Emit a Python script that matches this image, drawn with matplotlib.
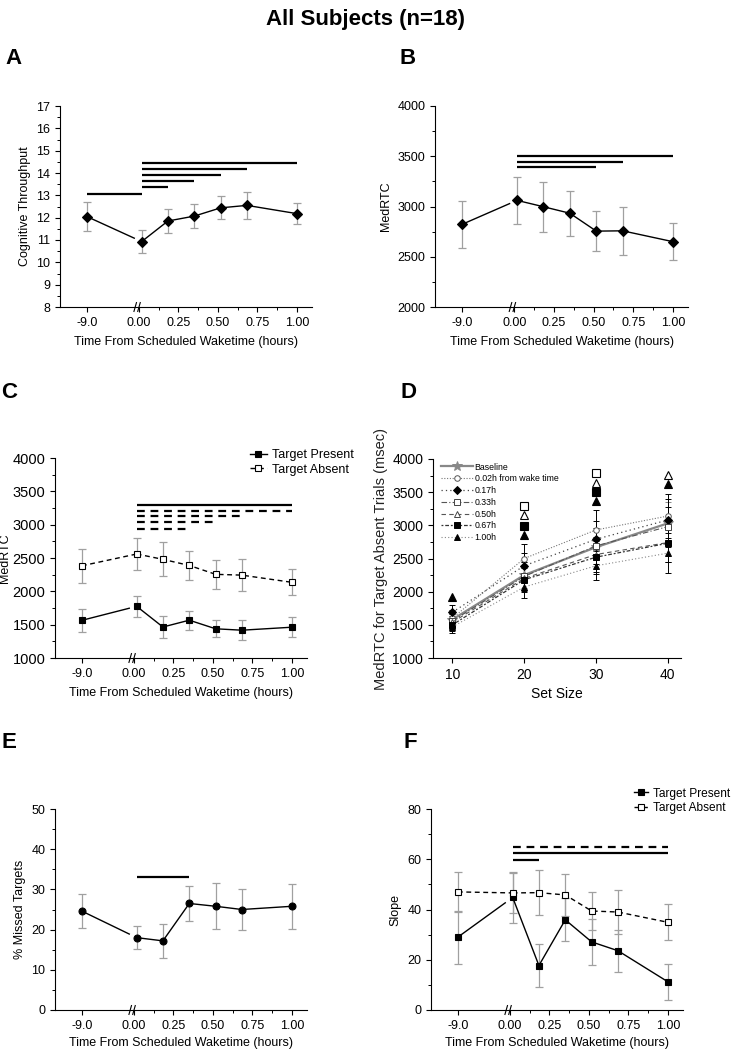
import matplotlib.pyplot as plt
from matplotlib.lines import Line2D
import numpy as np

plt.rcParams['font.family'] = ['Liberation Sans', 'DejaVu Sans']
plt.rcParams['axes.linewidth'] = 0.8

# session times (hours from scheduled waketime), -9.0 = baseline before sleep
hours = [-9.0, 0.017, 0.183, 0.35, 0.517, 0.683, 1.0]
tick_hours = [-9.0, 0.0, 0.25, 0.5, 0.75, 1.0]
tick_labels = ['-9.0', '0.00', '0.25', '0.50', '0.75', '1.00']

# A: cognitive throughput
thr_mean = [12.05, 10.93, 11.85, 12.07, 12.44, 12.55, 12.18]
thr_err = [0.64, 0.52, 0.55, 0.52, 0.52, 0.59, 0.46]
thr_sig = [(-9.0, 0.017, 13.08), (0.017, 0.183, 13.38), (0.017, 0.35, 13.64),
           (0.017, 0.517, 13.90), (0.017, 0.683, 14.17), (0.017, 1.0, 14.43)]

# B: MedRTC overall
rtc_mean = [2822, 3061, 2998, 2933, 2755, 2758, 2650]
rtc_err = [234, 232, 249, 223, 201, 236, 186]
rtc_sig = [(0.017, 0.517, 3390), (0.017, 0.683, 3443), (0.017, 1.0, 3502)]

# C: MedRTC target present / absent
tp_rtc = [1565, 1775, 1465, 1567, 1438, 1417, 1462]
tp_rtc_err = [175, 162, 165, 143, 125, 147, 147]
ta_rtc = [2383, 2560, 2480, 2388, 2255, 2243, 2135]
ta_rtc_err = [258, 240, 255, 215, 220, 235, 193]
rtc_sig_solid = [(0.017, 1.0, 3300)]
rtc_sig_dashed = [(0.017, 1.0, 3210), (0.017, 0.683, 3125),
                  (0.017, 0.517, 3035), (0.017, 0.35, 2940)]

# D: MedRTC for target absent trials by set size
set_sizes = [10, 20, 30, 40]
d_sessions = ['Baseline', '0.02h from wake time', '0.17h', '0.33h', '0.50h', '0.67h', '1.00h']
d_means = [[1580, 2250, 2670, 3030],
           [1600, 2500, 2930, 3140],
           [1690, 2390, 2790, 3080],
           [1560, 2230, 2690, 2980],
           [1540, 2200, 2560, 2740],
           [1500, 2180, 2520, 2730],
           [1470, 2070, 2390, 2580]]
d_errs = [[110, 200, 260, 320],
          [130, 220, 300, 330],
          [110, 200, 280, 320],
          [110, 210, 270, 300],
          [100, 190, 260, 300],
          [100, 180, 250, 290],
          [90, 170, 220, 300]]
# significance symbols drawn above the data
d_sig = {'0.33h': ([20, 30], [3290, 3790]),
         '0.50h': ([20, 30, 40], [3150, 3640, 3760]),
         '0.67h': ([20, 30], [2990, 3500]),
         '1.00h': ([10, 20, 30, 40], [1915, 2860, 3360, 3620])}

# E: % missed targets
miss_mean = [24.6, 18.0, 17.2, 26.5, 25.8, 25.0, 25.8]
miss_err = [4.3, 2.9, 4.2, 4.4, 5.7, 5.1, 5.6]
miss_sig = [(0.017, 0.35, 33.1)]

# F: slope target present / absent
tp_slope = [29.0, 44.8, 17.7, 35.9, 27.1, 23.6, 11.2]
tp_slope_err = [10.5, 10.0, 8.4, 8.5, 9.0, 8.3, 7.2]
ta_slope = [47.0, 46.6, 46.7, 45.8, 39.4, 39.0, 34.9]
ta_slope_err = [7.8, 8.0, 9.0, 8.3, 7.5, 8.9, 7.2]
slope_sig_dashed = [(0.017, 1.0, 64.7)]
slope_sig_solid = [(0.017, 1.0, 62.3), (0.017, 0.183, 59.7)]

BASE_POS = -0.33   # where -9.0 h sits on the broken axis
BREAK_END = -0.03  # baseline line stops short of the break
XLABEL = 'Time From Scheduled Waketime (hours)'
ERR_GREY = '#a0a0a0'
DASH = (0, (3.5, 2.6))
TICK_FS = 9
LABEL_FS = 9


def xpos(h):
    return BASE_POS if h < 0 else h


def ax_rect(left, top, right, bottom):
    W, H = 732, 1050
    return [left / W, 1 - bottom / H, (right - left) / W, (bottom - top) / H]


def style_axes(ax, ylim, yticks, yminor, fs=TICK_FS):
    for s in ['top', 'right']:
        ax.spines[s].set_visible(False)
    ax.set_ylim(*ylim)
    ax.set_yticks(yticks)
    ax.set_yticks(yminor, minor=True)
    ax.tick_params(which='major', direction='out', length=3.5, width=0.8, labelsize=fs)
    ax.tick_params(which='minor', direction='out', length=2, width=0.7)


def time_axes(ax, ylim, yticks, yminor, ylabel):
    style_axes(ax, ylim, yticks, yminor)
    ax.set_xlim(-0.5, 1.095)
    ax.set_xticks([xpos(h) for h in tick_hours])
    ax.set_xticklabels(tick_labels)
    ax.set_xticks([0.125, 0.375, 0.625, 0.875], minor=True)
    ax.set_ylabel(ylabel, fontsize=LABEL_FS)
    # axis break marks
    tr = ax.get_xaxis_transform()
    for dx in (-0.024, 0.0):
        ax.plot([dx - 0.008, dx + 0.008], [-0.022, 0.022], color='k', lw=0.8,
                transform=tr, clip_on=False)


def time_series(ax, means, errs, marker, filled=True, ls='-'):
    pos = [xpos(h) for h in hours]
    ax.errorbar(pos, means, yerr=errs, fmt='none', ecolor=ERR_GREY, elinewidth=0.9,
                capsize=3.2, capthick=0.9, zorder=2)
    mfc = 'k' if filled else 'white'
    if ls == '-':
        frac = (BREAK_END - pos[0]) / (pos[1] - pos[0])
        ax.plot([pos[0], BREAK_END], [means[0], means[0] + frac * (means[1] - means[0])],
                color='k', lw=1, ls=ls, zorder=3)
    else:
        ax.plot(pos[:2], means[:2], color='k', lw=1, ls=ls, zorder=3)
    ax.plot(pos[1:], means[1:], color='k', lw=1, ls=ls, zorder=3)
    ms = 4.8 if marker == 'D' else 5
    ax.plot(pos, means, ls='none', marker=marker, ms=ms, mfc=mfc, mec='k',
            mew=0.8, zorder=4)
    return Line2D([], [], color='k', lw=1, ls=ls, marker=marker, ms=4.5,
                  mfc=mfc, mec='k', mew=0.8)


def sig_bars(ax, bars, ls='-'):
    for h0, h1, y in bars:
        ax.plot([xpos(h0), xpos(h1)], [y, y], color='k', lw=1.6, ls=ls,
                solid_capstyle='butt', dash_capstyle='butt', zorder=3)


fig = plt.figure(figsize=(7.32, 10.5), dpi=100)
fig.text(0.5, 1 - 19 / 1050, 'All Subjects (n=18)', ha='center', va='center',
         fontsize=16, fontweight='bold')

letters = [('A', 13, 58), ('B', 408, 58), ('C', 9, 392), ('D', 409, 392),
           ('E', 9, 743), ('F', 410, 743)]
for lab, x, y in letters:
    fig.text(x / 732, 1 - y / 1050, lab, ha='center', va='center',
             fontsize=16, fontweight='bold')

# A
axA = fig.add_axes(ax_rect(60, 106, 312, 307))
time_axes(axA, (8, 17), range(8, 18), np.arange(8.5, 17, 1), 'Cognitive Throughput')
time_series(axA, thr_mean, thr_err, 'D')
sig_bars(axA, thr_sig)
axA.set_xlabel(XLABEL, fontsize=LABEL_FS, labelpad=5)

# B
axB = fig.add_axes(ax_rect(435, 106, 688, 307))
time_axes(axB, (2000, 4000), range(2000, 4001, 500), np.arange(2250, 4000, 500), 'MedRTC')
time_series(axB, rtc_mean, rtc_err, 'D')
sig_bars(axB, rtc_sig)
axB.set_xlabel(XLABEL, fontsize=LABEL_FS, labelpad=5)

# C
axC = fig.add_axes(ax_rect(55, 458, 307, 658))
time_axes(axC, (1000, 4000), range(1000, 4001, 500), np.arange(1250, 4000, 500), 'MedRTC')
axC.tick_params(axis='y', which='major', labelsize=10.5)
axC.yaxis.labelpad = 1
hp = time_series(axC, tp_rtc, tp_rtc_err, 's', True, '-')
ha = time_series(axC, ta_rtc, ta_rtc_err, 's', False, DASH)
sig_bars(axC, rtc_sig_solid)
sig_bars(axC, rtc_sig_dashed, DASH)
axC.set_xlabel(XLABEL, fontsize=LABEL_FS, labelpad=5)
axC.legend([hp, ha], ['Target Present', 'Target Absent'], loc='upper left',
           bbox_to_anchor=(0.755, 1.07), frameon=False, fontsize=9,
           handlelength=1.3, handletextpad=0.45, labelspacing=0.2, borderaxespad=0)

# D
axD = fig.add_axes(ax_rect(433, 459, 681, 658))
style_axes(axD, (1000, 4000), range(1000, 4001, 500), np.arange(1250, 4000, 500), fs=10)
axD.set_xlim(7.3, 41.85)
axD.set_xticks(set_sizes)
axD.set_xlabel('Set Size', fontsize=10, labelpad=4)
axD.set_ylabel('MedRTC for Target Absent Trials (msec)', fontsize=10.5, color='#222222',
               labelpad=3)
d_styles = [dict(ls='-', marker='*', color='#888888', mfc='#888888', mec='#888888', lw=1.6, ms=7),
            dict(ls=(0, (1, 1.5)), marker='o', color='#777777', mfc='white', mec='#555555', lw=0.8, ms=4),
            dict(ls=(0, (1, 2.5)), marker='D', color='#444444', mfc='k', mec='k', lw=0.9, ms=3.8),
            dict(ls=(0, (5, 2, 1, 2)), marker='s', color='#555555', mfc='white', mec='#444444', lw=0.8, ms=4),
            dict(ls=(0, (4, 3)), marker='^', color='#555555', mfc='white', mec='#444444', lw=0.8, ms=4.5),
            dict(ls=(0, (1.5, 1.5, 3, 1.5)), marker='s', color='#333333', mfc='k', mec='k', lw=0.9, ms=4),
            dict(ls=(0, (1, 2)), marker='^', color='#888888', mfc='k', mec='k', lw=0.8, ms=4.5)]
for name, means, errs, st in zip(d_sessions, d_means, d_errs, d_styles):
    ecol = '#888888' if name == 'Baseline' else 'k'
    axD.errorbar(set_sizes, means, yerr=errs, fmt='none', ecolor=ecol,
                 elinewidth=0.7, capsize=2, capthick=0.7, zorder=2)
    axD.plot(set_sizes, means, label=name, zorder=3, mew=0.7, **st)
for name, (xs, ys) in d_sig.items():
    st = d_styles[d_sessions.index(name)]
    axD.plot(xs, ys, ls='none', marker=st['marker'], ms=6, mfc=st['mfc'],
             mec='k', mew=0.8, zorder=4)
axD.legend(loc='upper left', bbox_to_anchor=(0.02, 1.0), frameon=False, fontsize=6.3,
           handlelength=3.6, handletextpad=0.2, labelspacing=0.32, borderaxespad=0)

# E
axE = fig.add_axes(ax_rect(55, 809, 307, 1010))
time_axes(axE, (0, 50), range(0, 51, 10), np.arange(5, 50, 10), '% Missed Targets')
time_series(axE, miss_mean, miss_err, 'o')
sig_bars(axE, miss_sig)
axE.set_xlabel(XLABEL, fontsize=LABEL_FS, labelpad=4)

# F
axF = fig.add_axes(ax_rect(431, 809, 683, 1010))
time_axes(axF, (0, 80), range(0, 81, 20), np.arange(10, 80, 20), 'Slope')
hp = time_series(axF, tp_slope, tp_slope_err, 's', True, '-')
ha = time_series(axF, ta_slope, ta_slope_err, 's', False, DASH)
sig_bars(axF, slope_sig_dashed, DASH)
sig_bars(axF, slope_sig_solid)
axF.set_xlabel(XLABEL, fontsize=LABEL_FS, labelpad=4)
axF.legend([hp, ha], ['Target Present', 'Target Absent'], loc='upper left',
           bbox_to_anchor=(0.785, 1.13), frameon=False, fontsize=8.6,
           handlelength=1.2, handletextpad=0.4, labelspacing=0.2, borderaxespad=0)

fig.savefig('out.png', dpi=100)
